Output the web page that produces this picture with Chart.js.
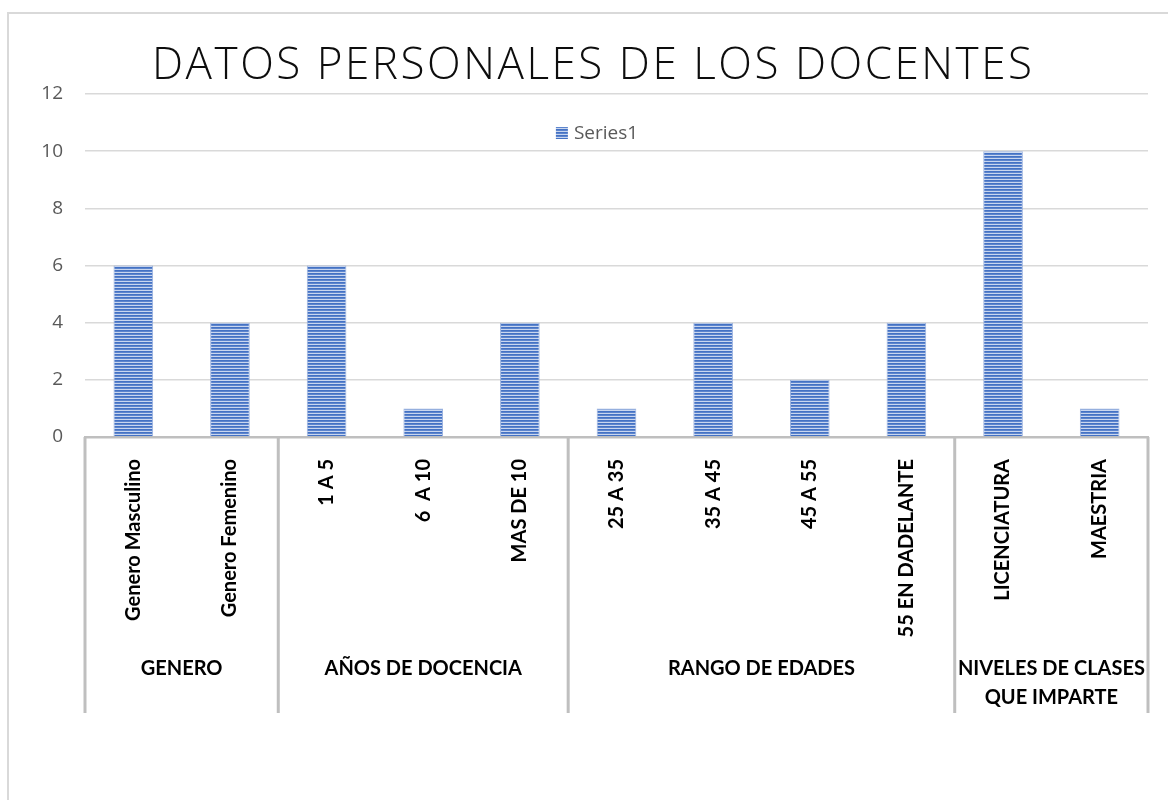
<!DOCTYPE html>
<html>
<head>
<meta charset="utf-8">
<script src="https://cdn.jsdelivr.net/npm/chart.js@4.4.0/dist/chart.umd.min.js"></script>
<style>
  html, body { margin: 0; padding: 0; background: #fff; }
  #wrap { width: 1168px; height: 800px; position: relative; }
</style>
</head>
<body>
<div id="wrap"><canvas id="chart"></canvas></div>
<script>
var chartTitle = 'DATOS PERSONALES DE LOS DOCENTES';
var seriesName = 'Series1';
var categories = ['Genero Masculino', 'Genero Femenino', '1 A 5', '6  A 10', 'MAS DE 10',
  '25 A 35', '35 A 45', '45 A 55', '55 EN DADELANTE', 'LICENCIATURA', 'MAESTRIA'];
var values = [6, 4, 6, 1, 4, 1, 4, 2, 4, 10, 1];
var groupNames = [['GENERO'], ['AÑOS DE DOCENCIA'], ['RANGO DE EDADES'], ['NIVELES DE CLASES', 'QUE IMPARTE']];
var groupSizes = [2, 3, 4, 2];
var yMin = 0, yMax = 12, yStep = 2;

// striped fill like the original
function stripes() {
  var c = document.createElement('canvas');
  c.width = 4; c.height = 3;
  var g = c.getContext('2d');
  g.fillStyle = '#c9d6ef'; g.fillRect(0, 0, 4, 3);
  g.fillStyle = '#4472c4'; g.fillRect(0, 0, 4, 1);
  g.fillStyle = '#5d85cd'; g.fillRect(0, 1, 4, 1);
  return g.createPattern(c, 'repeat');
}
var barFill = stripes();

var extras = {
  id: 'extras',
  beforeDraw(chart) {
    var ctx = chart.ctx;
    ctx.save();
    ctx.strokeStyle = '#d9d9d9';
    ctx.lineWidth = 2;
    ctx.beginPath();
    ctx.moveTo(8, 800); ctx.lineTo(8, 13); ctx.lineTo(1168, 13);
    ctx.stroke();
    ctx.restore();
  },
  afterDraw(chart) {
    var ctx = chart.ctx;
    ctx.save();

    // title with wide letter spacing
    ctx.font = '300 44px "Open Sans"';
    ctx.fillStyle = '#0d0d0d';
    ctx.textBaseline = 'alphabetic';
    ctx.textAlign = 'left';
    ctx.letterSpacing = '0px';
    var w = ctx.measureText(chartTitle).width;
    var sp = (880 - w) / (chartTitle.length - 1);
    ctx.letterSpacing = sp + 'px';
    ctx.fillText(chartTitle, 152, 79);
    ctx.letterSpacing = '0px';

    // legend
    var ds = chart.data.datasets[0];
    ctx.font = '19px "Open Sans"';
    var tw = ctx.measureText(ds.label).width;
    var lx = chart.width / 2 + 13 - (18 + tw) / 2;
    ctx.fillStyle = ds.backgroundColor;
    ctx.fillRect(lx, 127, 12, 12);
    ctx.fillStyle = '#595959';
    ctx.textBaseline = 'middle';
    ctx.fillText(ds.label, lx + 18, 134);

    // grouped category axis
    var x = chart.scales.x;
    var step = x.getPixelForValue(1) - x.getPixelForValue(0);
    var top = x.top, bottom = 713;
    var idx = 0;
    ctx.strokeStyle = '#bfbfbf';
    ctx.lineWidth = 3;
    ctx.fillStyle = '#000';
    ctx.font = 'bold 20px Lato';
    ctx.textAlign = 'center';
    for (var g = 0; g < groupSizes.length; g++) {
      var left = x.getPixelForValue(idx) - step / 2;
      var right = left + groupSizes[g] * step;
      ctx.beginPath(); ctx.moveTo(left, top); ctx.lineTo(left, bottom); ctx.stroke();
      var lines = groupNames[g];
      for (var k = 0; k < lines.length; k++) {
        ctx.fillText(lines[k], (left + right) / 2, 669 + k * 29);
      }
      idx += groupSizes[g];
    }
    var end = x.getPixelForValue(idx - 1) + step / 2;
    ctx.beginPath(); ctx.moveTo(end, top); ctx.lineTo(end, bottom); ctx.stroke();
    ctx.restore();
  }
};

new Chart(document.getElementById('chart'), {
  type: 'bar',
  data: {
    labels: categories,
    datasets: [{
      label: seriesName,
      data: values,
      backgroundColor: barFill,
      borderColor: 'rgba(143,170,220,0.9)',
      borderWidth: 1,
      categoryPercentage: 1,
      barPercentage: 0.41
    }]
  },
  options: {
    responsive: true,
    maintainAspectRatio: false,
    animation: false,
    layout: { padding: { left: 10, right: 20, top: 94, bottom: 160 } },
    plugins: {
      legend: { display: false },
      title: { display: false },
      tooltip: { enabled: false }
    },
    scales: {
      x: {
        grid: { display: false },
        border: { color: '#bfbfbf', width: 2.5 },
        ticks: {
          autoSkip: false,
          minRotation: 90,
          maxRotation: 90,
          padding: 14,
          color: '#000',
          font: { family: 'Lato', weight: 'bold', size: 20 }
        },
        afterFit: function (s) { s.height = 203; }
      },
      y: {
        min: yMin,
        max: yMax,
        border: { display: false },
        grid: { color: '#d9d9d9', lineWidth: 1.5, drawTicks: false },
        ticks: {
          stepSize: yStep,
          padding: 22,
          color: '#595959',
          font: { family: 'Open Sans', size: 19 }
        },
        afterFit: function (s) { s.width = 75; }
      }
    }
  },
  plugins: [extras]
});
</script>
</body>
</html>
